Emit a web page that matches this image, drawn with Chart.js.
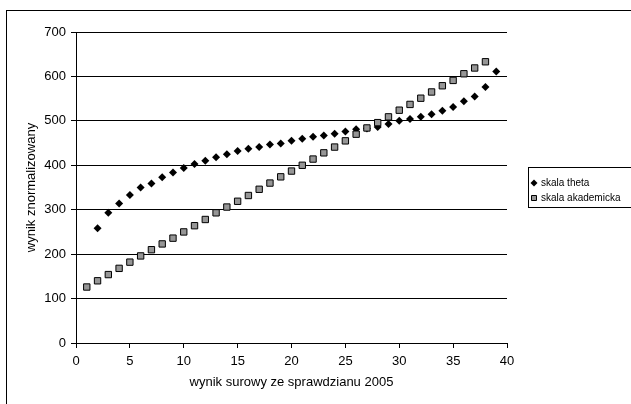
<!DOCTYPE html>
<html>
<head>
<meta charset="utf-8">
<script src="https://cdn.jsdelivr.net/npm/chart.js@4"></script>
<style>
  html, body { margin: 0; padding: 0; background: #fff; }
  canvas { display: block; }
</style>
</head>
<body>
<canvas id="chart" width="631" height="404"></canvas>
<script>
// raw score (x) for each position
const scores = [1, 2, 3, 4, 5, 6, 7, 8, 9, 10, 11, 12, 13, 14, 15, 16, 17, 18, 19, 20,
                21, 22, 23, 24, 25, 26, 27, 28, 29, 30, 31, 32, 33, 34, 35, 36, 37, 38, 39];
// skala theta: no point at score 1
const skalaTheta = [null, 258, 293, 314, 333, 350, 359, 373, 384, 394, 403, 410, 418, 425, 432, 437,
                    441, 447, 449, 455, 460, 464, 467, 471, 476, 481, 483, 486, 493, 500, 504, 509,
                    515, 523, 531, 544, 555, 576, 611];
// skala akademicka: no point at score 39
const skalaAkademicka = [126, 140, 154, 168, 182, 196, 210, 223, 236, 250, 264, 278, 293, 306, 319,
                         332, 346, 360, 374, 387, 400, 414, 428, 441, 455, 470, 484, 496, 509, 524,
                         537, 551, 565, 579, 591, 606, 619, 633, null];
const seriesNames = ['skala theta', 'skala akademicka'];
const xTitle = 'wynik surowy ze sprawdzianu 2005';
const yTitle = 'wynik znormalizowany';

const FONT = 'Arial, "Liberation Sans", sans-serif';

function toPoints(values) {
    return scores.map((s, i) => ({ x: s, y: values[i] })).filter(p => p.y !== null);
}

// outer frame + boxed legend drawn on the canvas
const framePlugin = {
    id: 'frame',
    afterDraw(chart) {
        const ctx = chart.ctx;
        ctx.save();
        ctx.strokeStyle = '#000';
        ctx.lineWidth = 1;
        ctx.strokeRect(6.5, 10.5, 700, 500);

        // legend box
        ctx.strokeRect(528.5, 167.5, 120, 40);
        ctx.font = '10px ' + FONT;
        ctx.textBaseline = 'middle';
        ctx.fillStyle = '#000';
        const rows = [183, 198];
        chart.data.datasets.forEach((ds, i) => {
            const y = rows[i];
            const x = 534;
            ctx.beginPath();
            if (ds.pointStyle === 'rectRot') {
                ctx.moveTo(x, y - 3.5);
                ctx.lineTo(x + 3.5, y);
                ctx.lineTo(x, y + 3.5);
                ctx.lineTo(x - 3.5, y);
                ctx.closePath();
                ctx.fillStyle = ds.backgroundColor;
                ctx.fill();
            } else {
                ctx.rect(x - 2.5, y - 2.5, 5, 5);
                ctx.fillStyle = ds.backgroundColor;
                ctx.fill();
                ctx.strokeStyle = ds.borderColor;
                ctx.stroke();
            }
            ctx.fillStyle = '#000';
            ctx.fillText(ds.label, 541, y);
        });
        ctx.restore();
    }
};

new Chart(document.getElementById('chart').getContext('2d'), {
    type: 'scatter',
    data: {
        datasets: [{
            label: seriesNames[0],
            data: toPoints(skalaTheta),
            pointStyle: 'rectRot',
            pointRadius: 4,
            backgroundColor: '#000',
            borderColor: '#000',
            borderWidth: 0,
            order: 1
        }, {
            label: seriesNames[1],
            data: toPoints(skalaAkademicka),
            pointStyle: 'rect',
            pointRadius: 4.5,
            backgroundColor: '#969696',
            borderColor: '#000',
            borderWidth: 1,
            order: 0
        }]
    },
    options: {
        responsive: false,
        animation: false,
        devicePixelRatio: 1,
        layout: { padding: { top: 32, right: 124, bottom: 0, left: 0 } },
        plugins: {
            legend: { display: false },
            tooltip: { enabled: false }
        },
        scales: {
            x: {
                type: 'linear',
                min: 0,
                max: 40,
                ticks: { stepSize: 5, color: '#000', padding: 6, maxRotation: 0, font: { family: FONT, size: 13 } },
                grid: { drawOnChartArea: false, drawTicks: true, tickLength: 5, color: '#000' },
                border: { color: '#000' },
                title: { display: true, text: xTitle, color: '#000', font: { family: FONT, size: 13 }, padding: { top: 0, bottom: 14 } },
                afterFit(scale) { scale.height = 61; }
            },
            y: {
                min: 0,
                max: 700,
                ticks: { stepSize: 100, color: '#000', padding: 5, font: { family: FONT, size: 13 } },
                grid: { color: '#000', drawTicks: true, tickLength: 5 },
                border: { color: '#000' },
                title: { display: true, text: yTitle, color: '#000', font: { family: FONT, size: 13 }, padding: { top: 24, bottom: 0 } },
                afterFit(scale) { scale.width = 76; }
            }
        }
    },
    plugins: [framePlugin]
});
</script>
</body>
</html>
